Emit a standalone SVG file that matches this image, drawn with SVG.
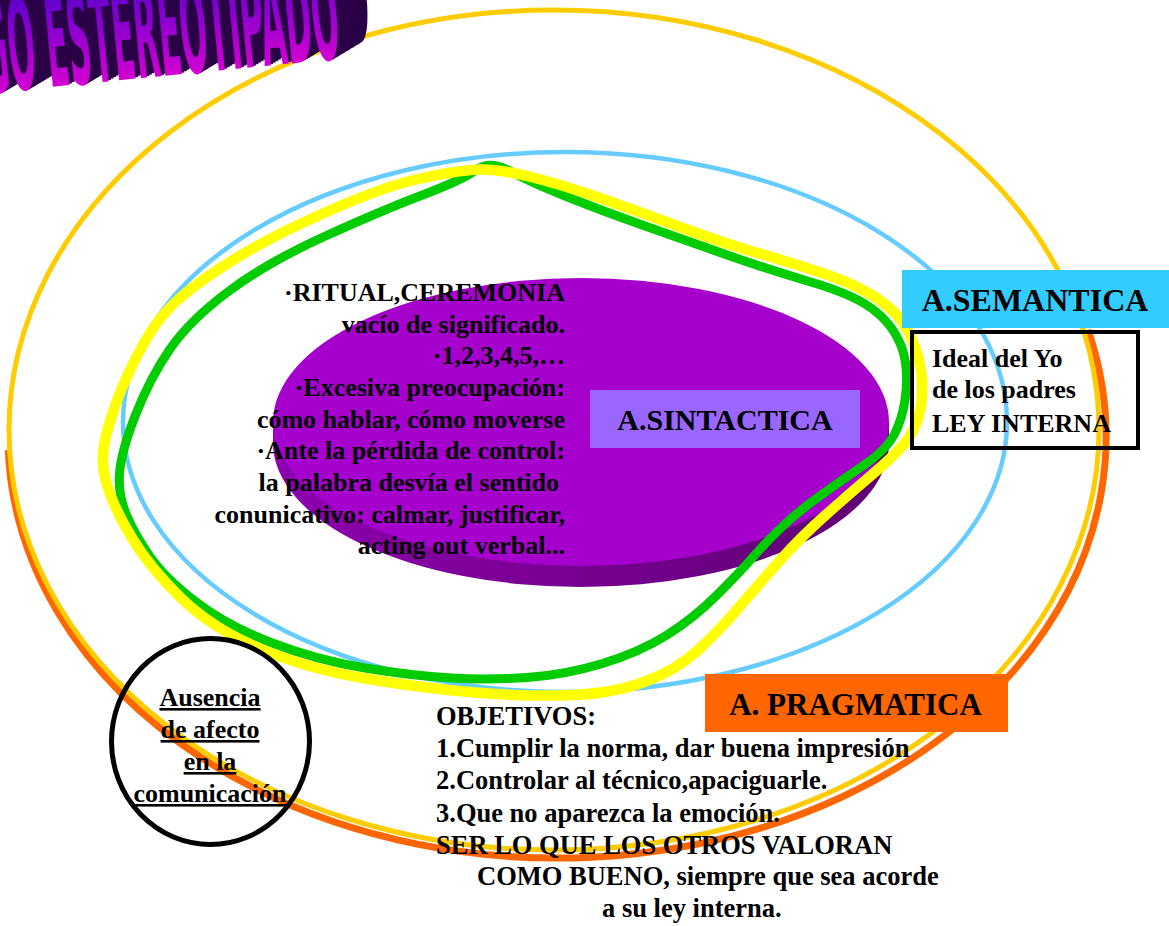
<svg xmlns="http://www.w3.org/2000/svg" xmlns:xlink="http://www.w3.org/1999/xlink" width="1169" height="926" viewBox="0 0 1169 926">
<style>
.t{font-family:"Liberation Serif","Times New Roman",serif;font-weight:bold;fill:#000}
.ring{fill:none}
.ul{text-decoration:underline}
</style>
<defs>
<linearGradient id="rim" x1="0" y1="0" x2="1" y2="0">
<stop offset="0" stop-color="#8E00AE"/>
<stop offset="1" stop-color="#5E0072"/>
</linearGradient>
<linearGradient id="tg" gradientUnits="userSpaceOnUse" x1="0" y1="-95" x2="0" y2="0">
<stop offset="0" stop-color="#5A00CC"/>
<stop offset="1" stop-color="#D200D2"/>
</linearGradient>
<text id="ttl" x="-14" y="0" transform="translate(0,92) rotate(-5.6)" font-size="128" textLength="358" lengthAdjust="spacingAndGlyphs" font-family="'Liberation Sans Narrow','DejaVu Sans Condensed','Liberation Sans',sans-serif" font-weight="bold">GO ESTEREOTIPADO</text>
</defs>
<rect width="1169" height="926" fill="#fff"/>

<g id="rings">
<path class="ring" d="M 8.3,450 A 549 421 0 1 0 1088,330" stroke="#FF6600" stroke-width="7"/>
<ellipse class="ring" cx="554" cy="430" rx="545" ry="420" stroke="#FFCC00" stroke-width="5"/>
<ellipse class="ring" cx="565" cy="422" rx="442" ry="270" stroke="#66CCFF" stroke-width="4.5"/>
</g>

<g id="title">
<use xlink:href="#ttl" href="#ttl" x="2.5" y="-1.5" fill="#2A0046"/>
<use xlink:href="#ttl" href="#ttl" x="5" y="-3" fill="#2A0046"/>
<use xlink:href="#ttl" href="#ttl" x="7.5" y="-4.5" fill="#2A0046"/>
<use xlink:href="#ttl" href="#ttl" x="10" y="-6" fill="#2A0046"/>
<use xlink:href="#ttl" href="#ttl" x="12.5" y="-7.5" fill="#2A0046"/>
<use xlink:href="#ttl" href="#ttl" x="15" y="-9" fill="#2A0046"/>
<use xlink:href="#ttl" href="#ttl" x="17.5" y="-10.5" fill="#2A0046"/>
<use xlink:href="#ttl" href="#ttl" x="20" y="-12" fill="#2A0046"/>
<use xlink:href="#ttl" href="#ttl" x="22.5" y="-13.5" fill="#2A0046"/>
<use xlink:href="#ttl" href="#ttl" x="25" y="-15" fill="#2A0046"/>
<use xlink:href="#ttl" href="#ttl" x="27.5" y="-16.5" fill="#2A0046"/>
<use xlink:href="#ttl" href="#ttl" x="30" y="-18" fill="#2A0046"/>
<use xlink:href="#ttl" href="#ttl" fill="url(#tg)"/>
</g>

<g id="n-sintactica-disc">
<path d="M 273,422 L 273,443 A 308 144 0 0 0 889,443 L 889,422 Z" fill="url(#rim)"/>
<ellipse cx="581" cy="422" rx="308" ry="144" fill="#A500CC"/>
</g>

<g id="connectors">
<path class="ring" stroke="#00CC00" stroke-width="9" stroke-linejoin="round" d="M 476,170 Q 490,160 510,171 Q 530,182 565,196 Q 600,210 645,226 Q 690,242 730,256 Q 770,270 807.5,281 Q 845,292 863.5,303 Q 882,314 892.5,329.5 Q 903,345 905.5,362.5 Q 908,380 905,400 Q 902,420 894,435 Q 886,450 865.5,464 Q 845,478 822.5,494 Q 800,510 784,525 Q 768,540 754,556 Q 740,572 717,595 Q 694,618 667,635 Q 640,652 602.5,663.5 Q 565,675 527,677.5 Q 489,680 451.5,678 Q 414,676 365,668 Q 316,660 271,642.5 Q 226,625 195.5,601.5 Q 165,578 150,556.5 Q 135,535 126.5,515 Q 118,495 119.5,473.5 Q 121,452 135.5,415 Q 150,378 170,349 Q 190,320 229,291 Q 268,262 325.5,236 Q 383,210 422.5,195 Q 462,180 476,170 Z"/>
<path class="ring" stroke="#FFFF00" stroke-width="10.5" stroke-linejoin="round" d="M 471,170 Q 494,168 527,176 Q 560,184 600,198 Q 640,212 680,227 Q 720,242 757.5,253 Q 795,264 825,274 Q 855,284 876.5,298 Q 898,312 908,331 Q 918,350 921,371 Q 924,392 920,411 Q 916,430 904.5,443.5 Q 893,457 870.5,476 Q 848,495 824,516.5 Q 800,538 779,561.5 Q 758,585 738,608.5 Q 718,632 697,651 Q 676,670 645.5,681.5 Q 615,693 572.5,695 Q 530,697 475,692.5 Q 420,688 362.5,678 Q 305,668 258.5,648 Q 212,628 181,598 Q 150,568 132,538 Q 114,508 107,485 Q 100,462 105,440 Q 110,418 120,393 Q 130,368 144,343 Q 158,318 176.5,301 Q 195,284 231.5,261 Q 268,238 324,213 Q 380,188 414,180 Q 448,172 471,170 Z"/>
</g>

<g id="n-sintactica">
<rect x="590" y="390" width="270" height="58" fill="#9966FF"/>
<text class="t" x="725" y="430" font-size="30" text-anchor="middle">A.SINTACTICA</text>
</g>

<g id="n-rasgos" class="t" font-size="26" text-anchor="end">
<text class="t" x="565" y="301">·RITUAL,CEREMONIA</text>
<text class="t" x="565" y="333">vacío de significado.</text>
<text class="t" x="565" y="364">·1,2,3,4,5,…</text>
<text class="t" x="565" y="396">·Excesiva preocupación:</text>
<text class="t" x="565" y="428">cómo hablar, cómo moverse</text>
<text class="t" x="565" y="459">·Ante la pérdida de control:</text>
<text class="t" x="559" y="491">la palabra desvía el sentido</text>
<text class="t" x="565" y="523">conunicativo: calmar, justificar,</text>
<text class="t" x="565" y="554">acting out verbal...</text>
</g>

<g id="n-semantica">
<rect x="902" y="270" width="267" height="58" fill="#33CCFF"/>
<text class="t" x="1035" y="311" font-size="32" text-anchor="middle">A.SEMANTICA</text>
</g>

<g id="n-ideal">
<rect x="912" y="332" width="226" height="116" fill="none" stroke="#000" stroke-width="4"/>
<text class="t" x="932" y="367" font-size="26">Ideal del Yo</text>
<text class="t" x="932" y="398" font-size="26">de los padres</text>
<text class="t" x="932" y="432" font-size="26">LEY INTERNA</text>
</g>

<g id="n-pragmatica">
<rect x="705" y="674" width="303" height="58" fill="#FF6600"/>
<text class="t" x="855.5" y="715" font-size="31" text-anchor="middle">A. PRAGMATICA</text>
</g>

<g id="n-objetivos" font-size="26.5">
<text class="t" x="436" y="725" font-size="26.5">OBJETIVOS:</text>
<text class="t" x="436" y="757" font-size="26.5">1.Cumplir la norma, dar buena impresión</text>
<text class="t" x="436" y="789" font-size="26.5">2.Controlar al técnico,apaciguarle.</text>
<text class="t" x="436" y="822" font-size="26.5">3.Que no aparezca la emoción.</text>
<text class="t" x="436" y="854" font-size="26.5">SER LO QUE LOS OTROS VALORAN</text>
<text class="t" x="477" y="885" font-size="26.5">COMO BUENO, siempre que sea acorde</text>
<text class="t" x="602" y="917" font-size="26.5">a su ley interna.</text>
</g>

<g id="n-ausencia">
<ellipse cx="210.5" cy="741.5" rx="99" ry="103" fill="none" stroke="#000" stroke-width="5"/>
<text class="t ul" x="210" y="706" font-size="26" text-anchor="middle">Ausencia</text>
<text class="t ul" x="210" y="738" font-size="26" text-anchor="middle">de afecto</text>
<text class="t ul" x="210" y="770" font-size="26" text-anchor="middle">en la</text>
<text class="t ul" x="210" y="802" font-size="26" text-anchor="middle">comunicación</text>
</g>
</svg>
